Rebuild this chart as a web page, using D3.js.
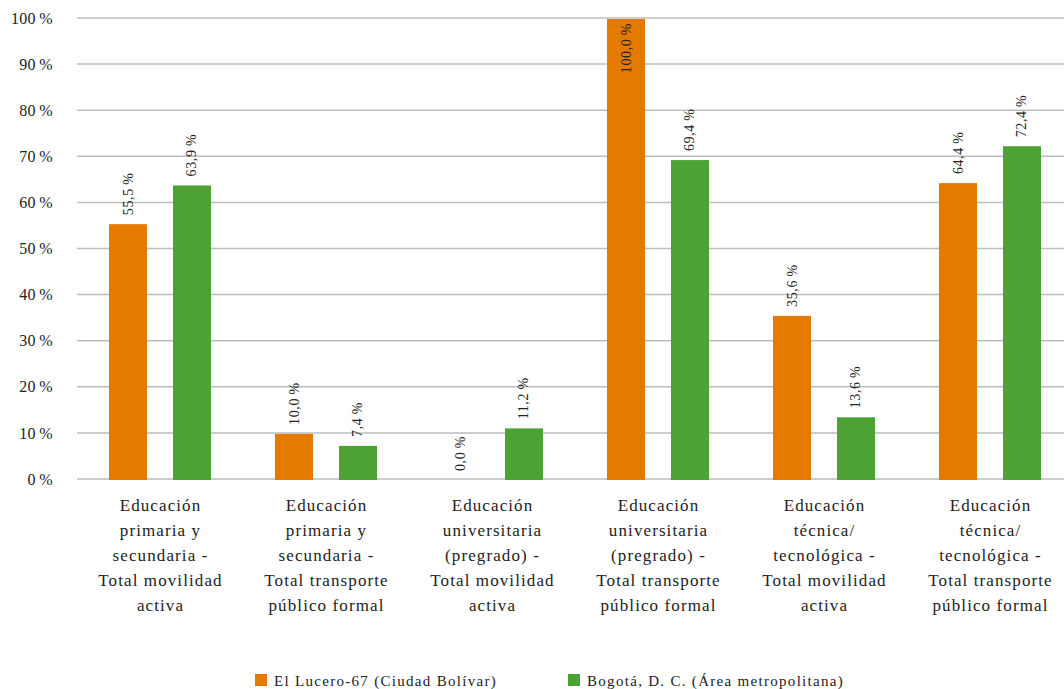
<!DOCTYPE html>
<html>
<head>
<meta charset="utf-8">
<script src="https://cdn.jsdelivr.net/npm/d3@7"></script>
<style>
  body { margin: 0; background: #fff; }
</style>
</head>
<body>
<div id="chart"></div>
<script>
// data
var categories = ["c1", "c2", "c3", "c4", "c5", "c6"];
var categoryLines = [
    ["Educación", "primaria y", "secundaria -", "Total movilidad", "activa"],
    ["Educación", "primaria y", "secundaria -", "Total transporte", "público formal"],
    ["Educación", "universitaria", "(pregrado) -", "Total movilidad", "activa"],
    ["Educación", "universitaria", "(pregrado) -", "Total transporte", "público formal"],
    ["Educación", "técnica/", "tecnológica -", "Total movilidad", "activa"],
    ["Educación", "técnica/", "tecnológica -", "Total transporte", "público formal"]
];
var seriesNames = ["El Lucero-67 (Ciudad Bolívar)", "Bogotá, D. C. (Área metropolitana)"];
var luceroValues = [55.5, 10.0, 0.0, 100.0, 35.6, 64.4];
var bogotaValues = [63.9, 7.4, 11.2, 69.4, 13.6, 72.4];
var yTicks = [0, 10, 20, 30, 40, 50, 60, 70, 80, 90, 100];
var colors = ["#e57a00", "#4ca232"];

var FONT = "'Liberation Serif'";
var width = 1064, height = 689;
var svg = d3.select("#chart").append("svg")
    .attr("width", width).attr("height", height)
    .style("font-family", FONT);

// scales
var groupStep = 166;
var x0 = d3.scaleBand().domain(categories)
    .range([77, 77 + groupStep * categories.length]).padding(0);
var x1 = d3.scaleBand().domain([0, 1])
    .range([0, groupStep]).paddingInner(0.406).paddingOuter(0.5);
var y = d3.scaleLinear().domain([0, 100]).range([480, 19]);

// gridlines
svg.append("g").selectAll("line").data(yTicks).enter().append("line")
    .attr("x1", 77).attr("x2", width)
    .attr("y1", function(d) { return y(d) - 1; })
    .attr("y2", function(d) { return y(d) - 1; })
    .attr("stroke", "#bdbdbd").attr("stroke-width", 1.5);

// y axis labels
var yAxis = d3.axisLeft(y).tickValues(yTicks).tickSize(0).tickPadding(0)
    .tickFormat(function(d) { return d + "\u2009%"; });
var yg = svg.append("g").attr("transform", "translate(53,-1)").call(yAxis);
yg.select(".domain").remove();
yg.attr("font-family", null).attr("font-size", null);
yg.selectAll("text").attr("fill", "#222")
    .style("font-family", FONT).style("font-size", "16px")
    .style("letter-spacing", "0.3px");

// bars
var rows = categories.map(function(c, i) {
    return { cat: c, vals: [luceroValues[i], bogotaValues[i]] };
});
var groups = svg.append("g").selectAll("g").data(rows).enter().append("g")
    .attr("transform", function(d) { return "translate(" + x0(d.cat) + ",0)"; });

groups.selectAll("rect").data(function(d) { return d.vals; }).enter().append("rect")
    .attr("x", function(d, j) { return x1(j); })
    .attr("width", x1.bandwidth())
    .attr("y", function(d) { return y(d); })
    .attr("height", function(d) { return y(0) - y(d); })
    .attr("fill", function(d, j) { return colors[j]; });

// value labels, rotated
groups.selectAll("text.val").data(function(d) { return d.vals; }).enter().append("text")
    .attr("class", "val")
    .attr("transform", function(d, j) {
        var cx = x1(j) + x1.bandwidth() / 2;
        var ty = d >= 99 ? y(d) + 4 : y(d) - 9;
        return "translate(" + (cx + 4.5) + "," + ty + ") rotate(-90)";
    })
    .attr("text-anchor", function(d) { return d >= 99 ? "end" : "start"; })
    .attr("fill", "#222")
    .style("font-family", FONT)
    .style("font-size", "14px")
    .style("letter-spacing", "0.6px")
    .text(function(d) { return d.toFixed(1).replace(".", ",") + "\u2009%"; });

// category labels
var catG = svg.append("g").selectAll("text").data(categories).enter().append("text")
    .attr("text-anchor", "middle")
    .attr("x", function(d) { return x0(d) + groupStep / 2 + 0.5; })
    .attr("y", 511)
    .attr("fill", "#222")
    .style("font-family", FONT)
    .style("font-size", "17px")
    .style("letter-spacing", "1.1px");
catG.selectAll("tspan").data(function(d, i) { return categoryLines[i]; }).enter()
    .append("tspan")
    .attr("x", function() { return d3.select(this.parentNode).attr("x"); })
    .attr("dy", function(d, k) { return k === 0 ? 0 : 25; })
    .text(function(d) { return d; });

// legend
var legendX = [255, 568];
var legend = svg.append("g").selectAll("g").data(seriesNames).enter().append("g")
    .attr("transform", function(d, i) { return "translate(" + legendX[i] + ",674)"; });
legend.append("rect").attr("width", 12).attr("height", 12)
    .attr("fill", function(d, i) { return colors[i]; });
legend.append("text").attr("x", 19).attr("y", 11.5)
    .attr("fill", "#222")
    .style("font-family", FONT)
    .style("letter-spacing", "1.3px")
    .style("font-size", "15px").text(function(d) { return d; });
</script>
</body>
</html>
